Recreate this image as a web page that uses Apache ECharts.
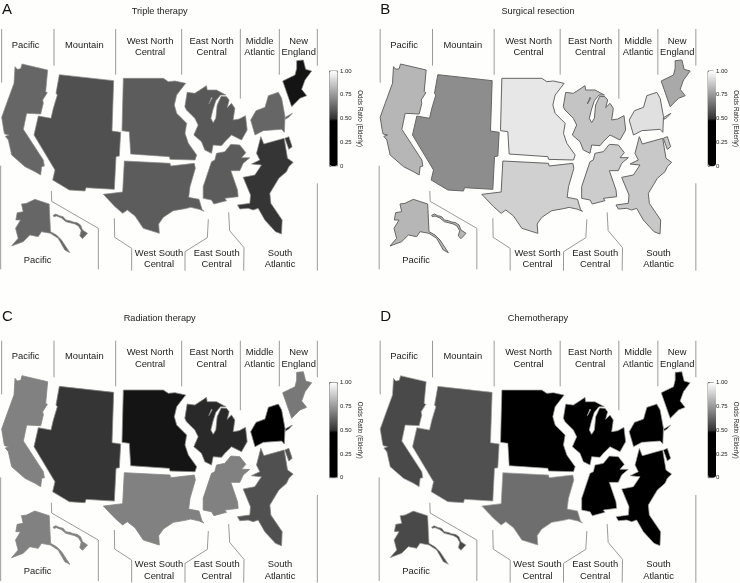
<!DOCTYPE html>
<html>
<head>
<meta charset="utf-8">
<style>html,body{margin:0;padding:0;background:#fefefc}#c{width:740px;height:583px}</style>
<script src="https://cdn.jsdelivr.net/npm/echarts@6/dist/echarts.min.js"></script>
</head>
<body>
<div id="c"></div>
<script>
// ---------- data ----------
const regionNames = ['Pacific','Mountain','West North Central','West South Central','East North Central','East South Central','Middle Atlantic','New England','South Atlantic'];
const tripleTherapy     = [0.625,0.57,0.60,0.60,0.59,0.60,0.625,0.485,0.505];
const surgicalResection = [0.82,0.72,0.94,0.885,0.855,0.875,0.925,0.79,0.865];
const radiationTherapy  = [0.69,0.505,0.485,0.69,0.495,0.69,0.40,0.67,0.57];
const chemotherapy      = [0.555,0.57,0.30,0.645,0.30,0.28,0.25,0.30,0.30];
const panelTitles = ['Triple therapy','Surgical resection','Radiation therapy','Chemotherapy'];
const panelLetters = ['A','B','C','D'];
const colorbarName = 'Odds Ratio (Elderly)';

// ---------- map outlines, traced at 3x panel-A pixels ----------
const shift = (pts,dx,dy)=>pts.map(p=>[p[0]+dx,p[1]+dy]);
const pacificMain = [[45,200],[52,208],[62,206],[66,192],[143,210],[137,275],[142,278],[128,300],[130,310],[122,342],[80,340],[70,388],[130,480],[133,498],[125,500],[122,525],[105,515],[75,500],[35,465],[25,420],[16,409],[27,405],[14,402],[12,395],[5,352],[20,310],[42,250]];
const alaska = shift([[45,42],[60,40],[85,28],[128,42],[132,125],[150,135],[165,150],[190,188],[175,180],[155,145],[132,130],[105,125],[95,140],[70,135],[50,155],[15,168],[35,145],[27,115],[42,90],[28,90],[32,68],[50,65]],19.5,570);
const hawaii = shift([[140,76],[148,72],[158,77],[170,80],[178,90],[190,92],[200,96],[212,98],[222,105],[228,120],[243,130],[228,146],[220,138],[224,122],[216,108],[205,102],[190,98],[178,95],[165,84],[150,78],[142,80]],19.5,570);
const mountain = [[178,224],[341,242],[336,393],[362,397],[358,468],[348,470],[343,568],[258,563],[255,573],[208,570],[158,540],[165,510],[102,405],[115,348],[153,355],[160,325],[172,285],[168,280]];
const westNorth = [[370,235],[490,235],[505,245],[525,243],[557,250],[530,285],[523,315],[530,340],[560,370],[555,400],[565,430],[590,465],[585,480],[510,478],[508,470],[392,462],[388,395],[366,392]];
const westSouth = [[373,483],[510,490],[512,498],[583,490],[586,505],[570,560],[566,592],[597,598],[606,628],[612,634],[598,628],[572,622],[555,626],[520,632],[490,652],[476,672],[478,700],[430,685],[405,648],[382,630],[368,640],[345,620],[310,583],[368,576]];
const eastNorth = shift([[32,112],[55,115],[78,100],[90,92],[92,105],[120,105],[148,120],[132,120],[118,137],[109,165],[103,190],[110,203],[118,190],[122,150],[134,124],[150,125],[158,135],[152,158],[165,145],[175,160],[170,195],[188,192],[207,182],[212,225],[195,255],[165,240],[145,260],[135,272],[110,270],[105,295],[85,285],[75,260],[52,240],[65,210],[55,190],[30,165],[25,155]],529.5,165);
const greenBay = shift([[105,127],[97,147],[99,150],[107,130]],529.5,165);
const eastSouth = shift([[88,43],[115,45],[133,68],[120,83],[145,83],[125,100],[115,122],[88,122],[108,180],[110,200],[70,205],[75,212],[37,222],[30,210],[5,205],[5,170],[30,95],[40,90],[45,70],[70,65]],604.5,390);
const midAtlantic = [[752,360],[768,332],[795,322],[805,287],[835,277],[845,295],[855,350],[853,397],[845,388],[790,392],[765,405]];
const longIsland = [[856,352],[877,340],[866,352],[856,358]];
const newEngland = [[890,182],[910,180],[917,208],[935,213],[915,240],[905,268],[920,287],[900,295],[875,320],[848,243],[885,225],[890,205]];
const southAtlantic = shift([[178,20],[187,42],[248,25],[258,85],[275,97],[262,110],[255,125],[232,145],[205,190],[208,220],[242,270],[240,312],[222,305],[190,270],[170,235],[155,240],[140,235],[115,237],[108,225],[145,220],[147,195],[125,142],[160,135],[180,105],[150,102],[175,90],[165,70]],604.5,390);
const delmarva = shift([[250,25],[262,20],[272,50],[262,58]],604.5,390);

const regionShapes = {
  'Pacific':[[pacificMain],[alaska],[hawaii]],
  'Mountain':[[mountain]],
  'West North Central':[[westNorth]],
  'West South Central':[[westSouth]],
  'East North Central':[[eastNorth,greenBay]],
  'East South Central':[[eastSouth]],
  'Middle Atlantic':[[midAtlantic],[longIsland]],
  'New England':[[newEngland]],
  'South Atlantic':[[southAtlantic],[delmarva]]
};

// ---------- divider lines and region labels (3x panel-A pixels) ----------
const dividers = [
 [[5,87],[5,248]],[[162,87],[162,197]],[[347,87],[347,224]],[[545,87],[545,224]],[[721,87],[721,296]],[[838,87],[838,224]],[[952,87],[952,197]],
 [[2,497],[2,808]],
 [[154,573],[155,604],[295,685],[295,808]],
 [[343,655],[344,712],[395,745],[395,812]],
 [[625,658],[622,713],[555,755],[555,812]],
 [[686,637],[689,692],[732,743],[731,812]],
 [[952,550],[952,812]]
];
const labelTexts = [
 ['Pacific',77,135],['Mountain',253,135],['West North\nCentral',450,140],['East North\nCentral',635,140],['Middle\nAtlantic',779,140],['New\nEngland',896,140],
 ['Pacific',113,780],['West South\nCentral',477,776],['East South\nCentral',650,776],['South\nAtlantic',840,776]
];

// ---------- layout ----------
const panelOffsets = [[0,0],[378.5,0],[0,311.7],[378.5,311.7]];
const headerOffsets = [[0,0],[378.3,0],[0,307.7],[378.3,307.7]];
const FONT = '"Liberation Sans", Arial, sans-serif';

// colour ramp: black below about 0.475, then dark grey rising to white
const ramp = [];
for (let i=0;i<=40;i++){
  const v=i/40; let g=0;
  if (v>=0.5) g=Math.round(51+(v-0.5)/0.5*204);
  ramp.push('rgb('+g+','+g+','+g+')');
}

const px = pts=>{const r=pts.map(p=>[p[0]/3,p[1]/3]);r.push(r[0]);return r;};
const features = regionNames.map(n=>({type:'Feature',properties:{name:n},geometry:{type:'MultiPolygon',coordinates:regionShapes[n].map(poly=>poly.map(px))}}));
panelLetters.forEach(l=>echarts.registerMap('regions'+l,{type:'FeatureCollection',features}));

let minX=1e9,minY=1e9,maxX=-1e9,maxY=-1e9;
features.forEach(f=>f.geometry.coordinates.forEach(poly=>poly[0].forEach(p=>{
  minX=Math.min(minX,p[0]);maxX=Math.max(maxX,p[0]);minY=Math.min(minY,p[1]);maxY=Math.max(maxY,p[1]);
})));

const identity={project:p=>p,unproject:p=>p};
const panelValues=[tripleTherapy,surgicalResection,radiationTherapy,chemotherapy];
const outline=['#8a8a8a','#666666','#858585','#a0a0a0'];
const outlineWidth=[0.7,1,0.8,0.7];

const series=[],visualMap=[],grid=[],xAxis=[],yAxis=[],graphic=[];
panelValues.forEach((vals,i)=>{
  const [dx,dy]=panelOffsets[i];
  series.push({
    type:'map',map:'regions'+panelLetters[i],projection:identity,roam:false,silent:true,
    left:minX+dx,top:minY+dy,width:maxX-minX,height:maxY-minY,
    label:{show:false},emphasis:{disabled:true},select:{disabled:true},
    itemStyle:{borderColor:outline[i],borderWidth:outlineWidth[i]},
    data:regionNames.map((n,k)=>({name:n,value:vals[k]}))
  });
  visualMap.push({
    type:'continuous',seriesIndex:i,min:0,max:1,calculable:false,realtime:false,
    left:329.5+dx,top:71+dy,itemWidth:8,itemHeight:95,padding:0,text:null,showLabel:false,
    inRange:{color:ramp},hoverLink:false
  });
  grid.push({show:true,left:329.5+dx,top:71+dy,width:8,height:95,borderColor:'#8a8a8a',borderWidth:1,backgroundColor:'transparent'});
  xAxis.push({type:'value',gridIndex:i,show:false,min:0,max:1});
  yAxis.push({
    type:'value',gridIndex:i,position:'right',min:0,max:1,interval:0.25,
    splitLine:{show:false},axisLine:{show:false},
    axisTick:{show:true,length:1.5,lineStyle:{color:'#555',width:0.6}},
    axisLabel:{margin:2.5,fontSize:6,fontFamily:FONT,color:'#222',formatter:v=>v===0?'0':v.toFixed(2)},
    name:colorbarName,nameLocation:'middle',nameRotate:-90,nameGap:19.5,
    nameTextStyle:{fontSize:6.3,fontFamily:FONT,color:'#222'}
  });
  const children=[];
  dividers.forEach(d=>children.push({type:'polyline',shape:{points:d.map(p=>[p[0]/3,p[1]/3])},style:{stroke:'#8f8f8f',lineWidth:0.9,fill:null},silent:true}));
  labelTexts.forEach(t=>{
    const text=(i===1&&t[0].startsWith('West South'))?t[0].replace('South','Sorth'):t[0];
    children.push({type:'text',silent:true,style:{text,x:t[1]/3,y:t[2]/3,align:'center',verticalAlign:'middle',fontSize:9.4,lineHeight:11.3,fontFamily:FONT,fill:'#222'}});
  });
  graphic.push({type:'group',x:dx,y:dy,silent:true,children});
  const [hx,hy]=headerOffsets[i];
  graphic.push({type:'text',silent:true,style:{text:panelTitles[i],x:159.7+hx,y:11+hy,align:'center',verticalAlign:'middle',fontSize:9.2,fontFamily:FONT,fill:'#222'}});
  graphic.push({type:'text',silent:true,style:{text:panelLetters[i],x:2+hx,y:9.5+hy,align:'left',verticalAlign:'middle',fontSize:15,fontFamily:FONT,fill:'#111'}});
});

const chart=echarts.init(document.getElementById('c'),null,{renderer:'canvas'});
chart.setOption({animation:false,backgroundColor:'#fefefc',tooltip:{show:false},series,visualMap,grid,xAxis,yAxis,graphic});
</script>
</body>
</html>
